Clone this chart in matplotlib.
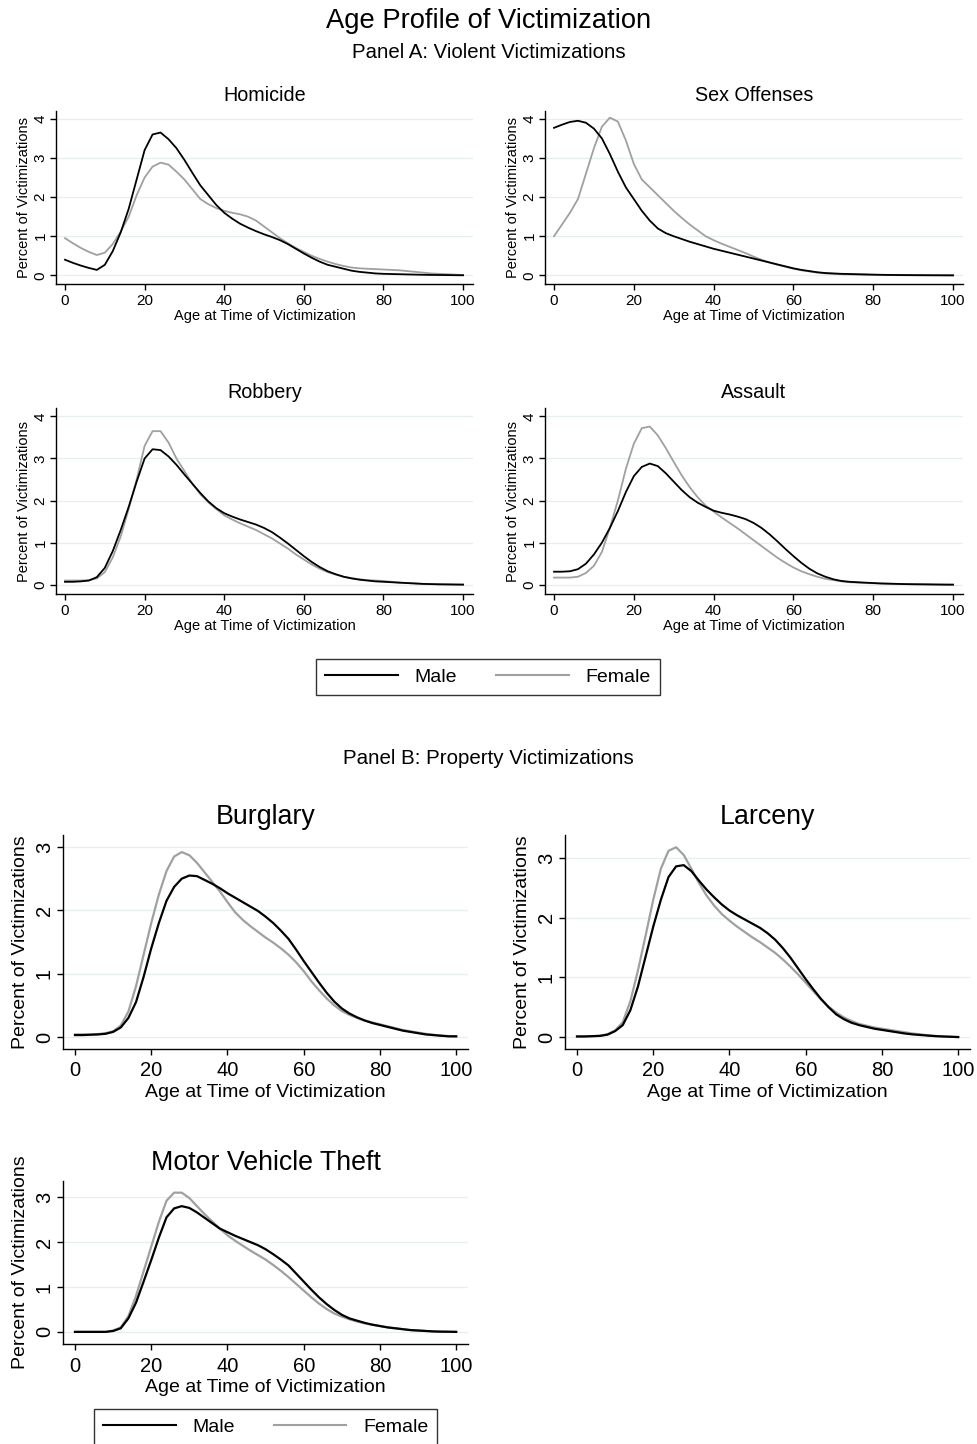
import numpy as np
import matplotlib
matplotlib.use('Agg')
import matplotlib.pyplot as plt

plt.rcParams['font.family'] = ['Liberation Sans', 'DejaVu Sans']

# age grid (2-year steps)
ages = np.arange(0, 101, 2)

# percent of victimizations by age, male / female
homicide_male = [0.40, 0.32, 0.25, 0.19, 0.14, 0.27, 0.62, 1.10, 1.70, 2.45, 3.20, 3.60, 3.65, 3.48, 3.25,
                 2.95, 2.62, 2.30, 2.05, 1.80, 1.60, 1.45, 1.32, 1.22, 1.13, 1.05, 0.98, 0.90, 0.80, 0.68,
                 0.56, 0.45, 0.35, 0.27, 0.22, 0.17, 0.12, 0.09, 0.07, 0.05, 0.04, 0.035, 0.03, 0.025, 0.02,
                 0.015, 0.012, 0.01, 0.008, 0.005, 0.003]
homicide_female = [0.95, 0.82, 0.70, 0.60, 0.52, 0.58, 0.80, 1.12, 1.50, 2.05, 2.50, 2.78, 2.88, 2.83, 2.65,
                   2.45, 2.20, 1.95, 1.82, 1.72, 1.65, 1.60, 1.56, 1.50, 1.40, 1.25, 1.10, 0.95, 0.82, 0.70,
                   0.60, 0.50, 0.42, 0.35, 0.29, 0.24, 0.20, 0.18, 0.17, 0.16, 0.15, 0.14, 0.13, 0.11, 0.09,
                   0.07, 0.05, 0.04, 0.03, 0.02, 0.01]
sex_male = [3.77, 3.85, 3.92, 3.95, 3.90, 3.75, 3.50, 3.10, 2.65, 2.25, 1.95, 1.65, 1.40, 1.20, 1.08,
            1.00, 0.93, 0.86, 0.80, 0.74, 0.68, 0.63, 0.58, 0.53, 0.48, 0.43, 0.38, 0.33, 0.28, 0.23,
            0.18, 0.14, 0.11, 0.08, 0.06, 0.05, 0.04, 0.035, 0.03, 0.025, 0.02, 0.015, 0.012, 0.01, 0.008,
            0.006, 0.005, 0.004, 0.003, 0.002, 0.001]
sex_female = [1.00, 1.30, 1.60, 1.95, 2.60, 3.25, 3.80, 4.03, 3.93, 3.45, 2.85, 2.45, 2.25, 2.05, 1.85,
              1.65, 1.47, 1.30, 1.15, 1.00, 0.90, 0.81, 0.73, 0.65, 0.57, 0.48, 0.40, 0.33, 0.27, 0.22,
              0.17, 0.13, 0.10, 0.07, 0.05, 0.04, 0.03, 0.025, 0.02, 0.015, 0.012, 0.01, 0.008, 0.006, 0.005,
              0.004, 0.003, 0.002, 0.002, 0.001, 0.001]
robbery_male = [0.07, 0.07, 0.08, 0.10, 0.18, 0.40, 0.80, 1.30, 1.85, 2.45, 3.00, 3.22, 3.20, 3.05, 2.85,
                2.62, 2.40, 2.18, 1.98, 1.82, 1.70, 1.62, 1.55, 1.49, 1.43, 1.35, 1.25, 1.12, 0.98, 0.83,
                0.68, 0.54, 0.42, 0.32, 0.25, 0.19, 0.15, 0.12, 0.10, 0.08, 0.07, 0.06, 0.05, 0.04, 0.03,
                0.02, 0.015, 0.01, 0.008, 0.005, 0.003]
robbery_female = [0.10, 0.10, 0.10, 0.11, 0.15, 0.30, 0.65, 1.15, 1.80, 2.50, 3.30, 3.65, 3.65, 3.38, 3.00,
                  2.70, 2.40, 2.15, 1.96, 1.80, 1.65, 1.55, 1.46, 1.38, 1.30, 1.20, 1.10, 0.98, 0.86, 0.72,
                  0.60, 0.48, 0.38, 0.30, 0.24, 0.19, 0.16, 0.13, 0.11, 0.10, 0.09, 0.07, 0.05, 0.04, 0.03,
                  0.02, 0.015, 0.01, 0.008, 0.005, 0.003]
assault_male = [0.31, 0.31, 0.32, 0.37, 0.50, 0.72, 1.00, 1.35, 1.75, 2.20, 2.58, 2.80, 2.88, 2.82, 2.65,
                2.45, 2.25, 2.08, 1.95, 1.85, 1.76, 1.71, 1.67, 1.62, 1.56, 1.47, 1.35, 1.20, 1.03, 0.85,
                0.68, 0.52, 0.38, 0.27, 0.19, 0.13, 0.09, 0.07, 0.06, 0.05, 0.04, 0.03, 0.025, 0.02, 0.015,
                0.012, 0.01, 0.008, 0.005, 0.003, 0.002]
assault_female = [0.17, 0.17, 0.17, 0.19, 0.28, 0.45, 0.78, 1.35, 2.00, 2.75, 3.35, 3.72, 3.76, 3.55, 3.25,
                  2.92, 2.60, 2.32, 2.08, 1.88, 1.74, 1.60, 1.47, 1.34, 1.20, 1.06, 0.92, 0.78, 0.64, 0.52,
                  0.41, 0.32, 0.25, 0.19, 0.14, 0.11, 0.08, 0.06, 0.05, 0.04, 0.035, 0.03, 0.025, 0.02, 0.015,
                  0.012, 0.01, 0.008, 0.005, 0.003, 0.002]
burglary_male = [0.03, 0.03, 0.035, 0.04, 0.05, 0.08, 0.15, 0.30, 0.55, 0.95, 1.40, 1.80, 2.15, 2.37, 2.50,
                 2.55, 2.54, 2.48, 2.42, 2.35, 2.27, 2.20, 2.13, 2.06, 1.99, 1.90, 1.80, 1.68, 1.55, 1.38,
                 1.20, 1.03, 0.86, 0.70, 0.56, 0.45, 0.37, 0.31, 0.26, 0.22, 0.19, 0.16, 0.13, 0.10, 0.08,
                 0.06, 0.04, 0.03, 0.02, 0.01, 0.01]
burglary_female = [0.04, 0.04, 0.04, 0.045, 0.06, 0.09, 0.18, 0.40, 0.80, 1.30, 1.80, 2.25, 2.62, 2.85, 2.92,
                   2.87, 2.75, 2.60, 2.45, 2.30, 2.13, 1.97, 1.85, 1.75, 1.66, 1.57, 1.49, 1.40, 1.30, 1.18,
                   1.04, 0.88, 0.74, 0.61, 0.50, 0.41, 0.35, 0.30, 0.26, 0.23, 0.20, 0.17, 0.14, 0.11, 0.09,
                   0.07, 0.05, 0.035, 0.02, 0.015, 0.01]
larceny_male = [0.01, 0.01, 0.015, 0.02, 0.04, 0.10, 0.20, 0.45, 0.85, 1.35, 1.85, 2.30, 2.68, 2.86, 2.88,
                2.78, 2.62, 2.47, 2.34, 2.22, 2.12, 2.04, 1.97, 1.90, 1.83, 1.74, 1.63, 1.49, 1.33, 1.15,
                0.97, 0.80, 0.64, 0.50, 0.38, 0.30, 0.24, 0.20, 0.17, 0.14, 0.12, 0.10, 0.08, 0.06, 0.045,
                0.035, 0.025, 0.015, 0.01, 0.005, 0.0]
larceny_female = [0.01, 0.01, 0.015, 0.02, 0.05, 0.11, 0.25, 0.60, 1.12, 1.70, 2.30, 2.82, 3.12, 3.18, 3.05,
                  2.82, 2.58, 2.37, 2.20, 2.06, 1.95, 1.85, 1.76, 1.67, 1.59, 1.50, 1.41, 1.30, 1.18, 1.05,
                  0.91, 0.77, 0.63, 0.51, 0.41, 0.33, 0.27, 0.22, 0.19, 0.16, 0.14, 0.12, 0.10, 0.08, 0.06,
                  0.045, 0.03, 0.02, 0.01, 0.005, 0.0]
mvt_male = [0.0, 0.0, 0.0, 0.0, 0.0, 0.02, 0.08, 0.30, 0.65, 1.12, 1.60, 2.10, 2.55, 2.75, 2.80,
            2.76, 2.66, 2.54, 2.42, 2.30, 2.22, 2.14, 2.07, 2.00, 1.93, 1.84, 1.73, 1.61, 1.48, 1.30,
            1.12, 0.94, 0.77, 0.62, 0.49, 0.38, 0.30, 0.25, 0.20, 0.16, 0.13, 0.10, 0.08, 0.06, 0.04,
            0.03, 0.02, 0.01, 0.005, 0.003, 0.0]
mvt_female = [0.0, 0.0, 0.0, 0.0, 0.0, 0.03, 0.10, 0.35, 0.80, 1.35, 1.90, 2.45, 2.92, 3.10, 3.10,
              2.98, 2.80, 2.62, 2.46, 2.30, 2.15, 2.03, 1.92, 1.81, 1.71, 1.61, 1.49, 1.36, 1.22, 1.07,
              0.92, 0.77, 0.63, 0.51, 0.41, 0.34, 0.28, 0.23, 0.19, 0.16, 0.13, 0.10, 0.08, 0.06, 0.04,
              0.03, 0.02, 0.01, 0.005, 0.003, 0.0]

W, H = 977, 1444
fig = plt.figure(figsize=(W / 100, H / 100), dpi=100)

MALE_C = 'black'
FEMALE_C = '#a0a0a0'
GRID_C = '#e6eff0'


def px_axes(left, top, right, bottom):
    # place an axes from pixel edges
    return fig.add_axes([left / W, 1 - bottom / H, (right - left) / W, (bottom - top) / H])


def draw(ax, title, male, female, xlim, ylim, yticks, fs_tick, fs_lab, fs_title, lw, ticklen,
         title_pad, xpad, xlabpad, ylabpad):
    ax.plot(ages, male, color=MALE_C, lw=lw, label='Male', zorder=3)
    ax.plot(ages, female, color=FEMALE_C, lw=lw, label='Female', zorder=2)
    ax.set_xlim(*xlim)
    ax.set_ylim(*ylim)
    ax.set_xticks(range(0, 101, 20))
    ax.set_yticks(yticks)
    for v in yticks:
        ax.axhline(v, color=GRID_C, lw=0.9, zorder=1)
    for s in ['top', 'right']:
        ax.spines[s].set_visible(False)
    for s in ['left', 'bottom']:
        ax.spines[s].set_linewidth(1.0)
    ax.tick_params(direction='out', length=ticklen, width=1.0, labelsize=fs_tick)
    ax.tick_params(axis='x', pad=xpad)
    ax.tick_params(axis='y', pad=2)
    for lab in ax.get_yticklabels():
        lab.set_rotation(90)
        lab.set_va('center')
    ax.set_xlabel('Age at Time of Victimization', fontsize=fs_lab, labelpad=xlabpad)
    ax.set_ylabel('Percent of Victimizations', fontsize=fs_lab, labelpad=ylabpad)
    ax.set_title(title, fontsize=fs_title, pad=title_pad)


# Panel A: violent
a_kw = dict(xlim=(-2.26, 102.5), ylim=(-0.22, 4.2), yticks=range(0, 5), fs_tick=11, fs_lab=10.5,
            fs_title=14.2, lw=1.3, ticklen=4, title_pad=7, xpad=3.5, xlabpad=0.5, ylabpad=2)
ax = px_axes(56, 111, 473, 284)
draw(ax, 'Homicide', homicide_male, homicide_female, **a_kw)
ax = px_axes(545, 111, 963, 284)
draw(ax, 'Sex Offenses', sex_male, sex_female, **a_kw)
ax = px_axes(56, 408, 473, 594)
draw(ax, 'Robbery', robbery_male, robbery_female, **a_kw)
ax = px_axes(545, 408, 963, 594)
draw(ax, 'Assault', assault_male, assault_female, **a_kw)
handles, labels = ax.get_legend_handles_labels()

# Panel B: property
b_kw = dict(xlim=(-3.15, 103.1), yticks=range(0, 4), fs_tick=14.5, fs_lab=14,
            fs_title=19.3, lw=1.6, ticklen=4.5, title_pad=8, xpad=4.5, xlabpad=2.5, ylabpad=4)
ax = px_axes(63, 835, 468, 1049)
draw(ax, 'Burglary', burglary_male, burglary_female, ylim=(-0.19, 3.19), **b_kw)
ax = px_axes(565, 835, 970, 1049)
draw(ax, 'Larceny', larceny_male, larceny_female, ylim=(-0.2, 3.385), **b_kw)
ax = px_axes(63, 1181, 468, 1344)
draw(ax, 'Motor Vehicle Theft', mvt_male, mvt_female, ylim=(-0.27, 3.36), **b_kw)

leg_kw = dict(loc='center', ncol=2, fontsize=14, frameon=True, fancybox=False, handlelength=3.75,
              handletextpad=0.85, columnspacing=2.0, borderpad=0.45, borderaxespad=0)
for cx, cy in [(488, 677), (265.5, 1427)]:
    leg = fig.legend(handles, labels, bbox_to_anchor=(cx / W, 1 - cy / H), **leg_kw)
    leg.get_frame().set_edgecolor('black')
    leg.get_frame().set_linewidth(1.0)
    for ln in leg.get_lines():
        ln.set_linewidth(1.5)

fig.text(0.5, 1 - 21 / H, 'Age Profile of Victimization', ha='center', va='center', fontsize=19.7)
fig.text(0.5, 1 - 53 / H, 'Panel A: Violent Victimizations', ha='center', va='center', fontsize=14.7)
fig.text(0.5, 1 - 758 / H, 'Panel B: Property Victimizations', ha='center', va='center', fontsize=14.8)

fig.savefig('out.png', dpi=100, facecolor='white')
